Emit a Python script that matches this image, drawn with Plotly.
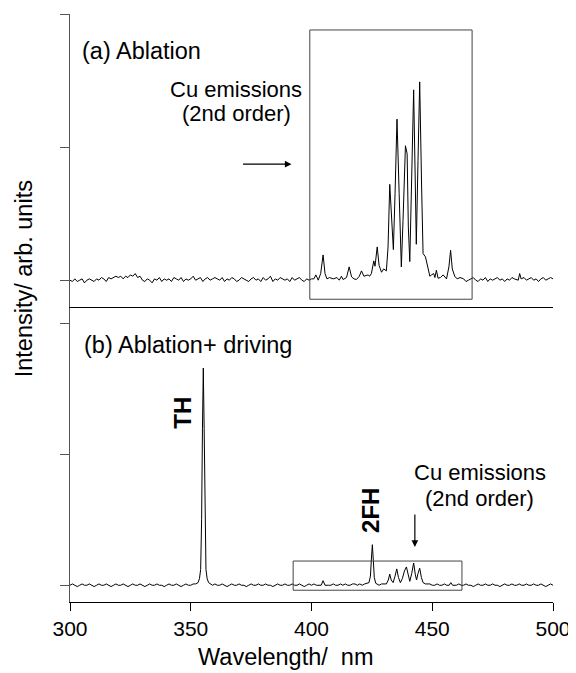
import plotly.graph_objects as go

# ---------------- data ----------------
wl_grid = list(range(300, 501))

noise_a = [
    0.00, -0.01, 0.01, -0.01, 0.00, 0.01, -0.02, 0.00, 0.01, 0.00,
    -0.01, 0.01, 0.00, 0.02, 0.01, -0.01, 0.02, 0.01, 0.02, 0.03,
    0.02, 0.03, 0.01, 0.03, 0.02, 0.04, 0.03, 0.05, 0.02, 0.03,
    0.00, -0.01, 0.01, 0.00, -0.02, 0.01, 0.00, 0.02, -0.01, 0.01,
    0.00, 0.01, -0.01, 0.02, 0.01, 0.00, 0.02, -0.01, 0.01, 0.00,
    0.01, 0.03, 0.00, 0.01, 0.02, -0.01, 0.01, 0.02, 0.00, 0.01,
    0.02, 0.01, 0.00, 0.02, -0.01, 0.01, 0.00, 0.02, 0.01, -0.01,
    0.00, 0.02, 0.01, 0.00, -0.01, 0.01, 0.02, 0.00, 0.01, -0.01,
    0.02, 0.00, 0.01, 0.03, -0.01, 0.01, 0.00, 0.02, 0.01, 0.00,
    0.01, -0.01, 0.02, 0.00, 0.01, 0.02, 0.00, -0.01, 0.01, 0.00,
    0.01, 0.02, 0.00, 0.01, 0.02, 0.00, 0.01, -0.01, 0.01, 0.00,
    0.01, 0.00, 0.02, 0.01, 0.00, 0.02, 0.01, 0.00, 0.01, 0.02,
    0.01, 0.02, 0.01, 0.03, 0.02, 0.04, 0.05, 0.06, 0.05, 0.04,
    0.03, 0.02, 0.04, 0.03, 0.02, 0.03, 0.02, 0.04, 0.03, 0.02,
    0.03, 0.02, 0.04, 0.03, 0.05, 0.04, 0.03, 0.02, 0.03, 0.02,
    0.01, 0.02, 0.01, 0.00, 0.02, 0.01, 0.00, 0.02, 0.01, 0.00,
    0.01, 0.00, 0.02, 0.01, -0.01, 0.00, 0.01, 0.02, 0.00, -0.01,
    0.01, 0.00, 0.02, -0.01, 0.01, 0.00, 0.01, 0.02, 0.00, 0.01,
    -0.01, 0.01, 0.00, 0.02, 0.01, 0.00, 0.03, 0.01, 0.02, 0.00,
    0.01, 0.02, 0.00, 0.01, -0.01, 0.01, 0.02, 0.00, 0.01, 0.02,
    0.01,
]

peak_a_wl = [
    401.0, 401.8, 402.8, 403.8, 404.8, 405.6, 406.4, 407.5, 409.0, 410.5,
    411.5, 412.4, 413.1, 414.5, 415.6, 416.6, 417.6, 418.6, 419.8, 420.7,
    421.7, 422.6, 423.4, 424.1, 424.8, 425.8, 426.3, 427.2, 428.0, 429.0,
    429.9, 431.0, 431.7, 432.4, 433.1, 433.9, 434.6, 435.4, 436.3, 437.2,
    437.9, 438.9, 439.6, 440.1, 440.7, 441.5, 442.3, 443.0, 443.4, 444.1,
    444.8, 445.6, 446.2, 447.2, 448.3, 449.0, 449.7, 450.6, 451.1, 451.7,
    452.4, 453.4, 454.5, 455.2, 455.9, 456.9, 457.6, 458.3, 459.3, 460.3,
    461.5, 485.6, 486.2, 486.8,
]
peak_a_val = [
    0.01, 0.04, 0.00, 0.05, 0.19, 0.05, 0.01, 0.02, 0.01, 0.02,
    0.00, 0.03, 0.005, 0.02, 0.10, 0.025, 0.01, 0.005, 0.03, 0.07,
    0.03, 0.035, 0.04, 0.03, 0.05, 0.145, 0.105, 0.25, 0.11, 0.06,
    0.085, 0.07, 0.25, 0.72, 0.45, 0.23, 0.65, 1.21, 0.65, 0.10,
    0.45, 1.01, 0.95, 0.40, 0.14, 0.70, 1.43, 0.70, 0.27, 0.90,
    1.49, 0.70, 0.20, 0.175, 0.07, 0.03, 0.04, 0.05, 0.02, 0.075,
    0.015, 0.02, 0.04, 0.02, 0.01, 0.10, 0.225, 0.085, 0.03, 0.01,
    0.02, 0.00, 0.05, 0.01,
]

noise_b = [
    0.00, 0.01, 0.00, -0.01, 0.00, 0.01, 0.00, 0.00, 0.01, 0.00,
    -0.01, 0.00, 0.01, 0.00, 0.00, 0.01, 0.00, -0.01, 0.00, 0.01,
    0.00, 0.00, 0.01, 0.00, -0.01, 0.00, 0.01, 0.00, 0.00, 0.01,
    0.00, -0.01, 0.00, 0.01, 0.00, 0.00, 0.01, 0.00, 0.00, -0.01,
    0.00, 0.01, 0.00, 0.00, 0.01, 0.00, -0.01, 0.00, 0.01, 0.00,
    0.00, 0.01, 0.01, 0.02, 0.03, 0.05, 0.04, 0.02, 0.01, 0.00,
    0.01, 0.00, 0.00, 0.01, 0.00, -0.01, 0.00, 0.01, 0.00, 0.00,
    0.01, 0.00, 0.00, -0.01, 0.00, 0.01, 0.00, 0.00, 0.01, 0.00,
    0.00, 0.01, 0.00, 0.00, -0.01, 0.00, 0.01, 0.00, 0.00, 0.01,
    0.00, 0.00, 0.01, 0.00, 0.00, 0.01, 0.00, -0.01, 0.00, 0.01,
    0.00, 0.01, 0.00, 0.00, 0.01, 0.03, 0.01, 0.00, 0.00, 0.01,
    0.00, 0.00, 0.01, 0.00, 0.01, 0.00, 0.00, 0.01, 0.01, 0.00,
    0.01, 0.00, 0.01, 0.02, 0.03, 0.30, 0.04, 0.01, 0.00, 0.01,
    0.01, 0.02, 0.08, 0.03, 0.06, 0.12, 0.05, 0.04, 0.10, 0.14,
    0.05, 0.09, 0.16, 0.05, 0.10, 0.12, 0.02, 0.01, 0.00, 0.01,
    0.00, 0.00, 0.01, 0.00, 0.00, 0.01, 0.00, 0.00, 0.02, 0.00,
    0.00, 0.01, 0.00, 0.00, 0.01, 0.00, 0.00, -0.01, 0.00, 0.01,
    0.00, 0.00, 0.01, 0.00, 0.00, 0.01, 0.00, 0.00, -0.01, 0.00,
    0.01, 0.00, 0.00, 0.01, 0.00, 0.00, 0.01, 0.00, 0.00, 0.01,
    0.00, 0.00, 0.01, 0.00, 0.00, 0.01, 0.00, -0.01, 0.00, 0.01,
    0.00,
]

peak_b_wl = [
    353.0, 353.6, 354.1, 354.5, 354.85, 355.2, 355.55, 355.9, 356.3, 356.8, 357.4,
    404.0, 404.8, 405.6,
    423.8, 424.4, 424.8, 425.2, 425.6, 426.0, 426.6,
    431.0, 431.8, 432.4, 433.0, 433.8, 434.6, 435.3, 436.0, 436.8, 437.6,
    438.5, 439.3, 440.0, 440.7, 441.5, 442.3, 443.0, 443.5, 444.1, 444.8,
    445.5, 446.2, 447.2,
    457.0, 457.7, 458.4,
]
peak_b_val = [
    0.02, 0.05, 0.12, 0.50, 1.20, 1.66, 1.20, 0.45, 0.12, 0.05, 0.02,
    0.00, 0.035, 0.00,
    0.02, 0.07, 0.20, 0.31, 0.19, 0.06, 0.015,
    0.01, 0.04, 0.085, 0.04, 0.02, 0.07, 0.125, 0.06, 0.02, 0.05,
    0.11, 0.14, 0.07, 0.03, 0.09, 0.17, 0.08, 0.04, 0.09, 0.13,
    0.06, 0.02, 0.01,
    0.00, 0.02, 0.00,
]

x_ticks = [300, 350, 400, 450, 500]
y_ticks = [0, 1, 2]

box_a = [399.3, 466.5, -0.143, 1.88]
box_b = [392.4, 462.3, -0.038, 0.185]


def merge(grid, noise, pk_wl, pk_val):
    pts = [(w, v) for w, v in zip(grid, noise)
           if min(abs(w - p) for p in pk_wl) >= 1.0]
    pts += list(zip(pk_wl, pk_val))
    pts.sort()
    return [p[0] for p in pts], [p[1] for p in pts]


xa, ya = merge(wl_grid, noise_a, peak_a_wl, peak_a_val)
xb, yb = merge(wl_grid, noise_b, peak_b_wl, peak_b_val)

FONT = "Liberation Sans, Arial, sans-serif"
AX_GREY = "#555555"

fig = go.Figure()
fig.add_trace(go.Scatter(x=xa, y=ya, mode="lines", xaxis="x2", yaxis="y2",
                         line=dict(color="black", width=1), showlegend=False,
                         hoverinfo="skip"))
fig.add_trace(go.Scatter(x=xb, y=yb, mode="lines", xaxis="x", yaxis="y",
                         line=dict(color="black", width=1), showlegend=False,
                         hoverinfo="skip"))

split = 0.502
xr = [300, 500]
yr_a = [-0.2, 2.0]
yr_b = [-0.128, 2.128]

common_x = dict(range=xr, tickvals=x_ticks, showgrid=False, zeroline=False,
                fixedrange=True)
common_y = dict(tickvals=y_ticks, showgrid=False, zeroline=False,
                showticklabels=False, fixedrange=True)

# page body has an 8px margin: the figure is offset by 8px and the overflow clipped
fig.update_layout(
    width=576, height=673, autosize=False,
    margin=dict(l=62, r=31, t=6, b=79, pad=0),
    plot_bgcolor="white", paper_bgcolor="white",
    font=dict(family=FONT, color="black", size=21),
    showlegend=False,
    xaxis=dict(**common_x, domain=[0, 1], anchor="y", ticks="outside",
               ticklen=8, tickcolor="black", showline=True, linecolor="black",
               linewidth=1, tickfont=dict(size=21, family=FONT)),
    yaxis=dict(**common_y, domain=[0, split], range=yr_b, anchor="x",
               ticks="outside", ticklen=9, tickcolor=AX_GREY, showline=True,
               linecolor=AX_GREY, linewidth=1),
    xaxis2=dict(**common_x, domain=[0, 1], anchor="y2", ticks="",
                showticklabels=False, showline=True, linecolor="black",
                linewidth=1.2),
    yaxis2=dict(**common_y, domain=[split, 1], range=yr_a, anchor="x2",
                ticks="outside", ticklen=9, tickcolor=AX_GREY, showline=True,
                linecolor=AX_GREY, linewidth=1),
    xaxis3=dict(**common_x, overlaying="x2", anchor="y2", side="top",
                ticks="inside", ticklen=7, tickcolor=AX_GREY,
                showticklabels=False, showline=True, linecolor=AX_GREY,
                linewidth=1),
    xaxis4=dict(**common_x, overlaying="x", anchor="y", side="top",
                ticks="inside", ticklen=8, tickcolor="black",
                showticklabels=False, showline=False),
    yaxis3=dict(**common_y, range=yr_a, overlaying="y2", anchor="x2",
                side="right", ticks="inside", ticklen=3, tickcolor=AX_GREY,
                showline=True, linecolor=AX_GREY, linewidth=1),
    yaxis4=dict(**common_y, range=yr_b, overlaying="y", anchor="x",
                side="right", ticks="inside", ticklen=3, tickcolor=AX_GREY,
                showline=True, linecolor=AX_GREY, linewidth=1),
)

# boxes
fig.add_shape(type="rect", xref="x2", yref="y2",
              x0=box_a[0], x1=box_a[1], y0=box_a[2], y1=box_a[3],
              line=dict(color="#444444", width=1))
fig.add_shape(type="rect", xref="x", yref="y",
              x0=box_b[0], x1=box_b[1], y0=box_b[2], y1=box_b[3],
              line=dict(color="#444444", width=1))


def txt(text, x, y, xref, yref, size, xanchor="center", bold=False, angle=0):
    if bold:
        text = "<b>" + text + "</b>"
    fig.add_annotation(text=text, x=x, y=y, xref=xref, yref=yref,
                       showarrow=False, xanchor=xanchor, yanchor="middle",
                       textangle=angle,
                       font=dict(family=FONT, size=size, color="black"))


# panel (a)
txt("(a) Ablation", 304.1, 1.72, "x2", "y2", 23.5, xanchor="left")
txt("Cu emissions", 368.8, 1.43, "x2", "y2", 22)
txt("(2nd order)", 368.8, 1.255, "x2", "y2", 22)
fig.add_annotation(x=391.7, y=0.872, xref="x2", yref="y2", ax=-50, ay=0,
                   axref="pixel", ayref="pixel", text="", showarrow=True,
                   arrowhead=2, arrowsize=1.1, arrowwidth=1.2,
                   arrowcolor="black")

# panel (b)
txt("(b) Ablation+ driving", 304.8, 1.835, "x", "y", 23.5, xanchor="left")
txt("TH", 346.8, 1.319, "x", "y", 24, bold=True, angle=-90)
txt("2FH", 424.5, 0.573, "x", "y", 24, bold=True, angle=-90)
txt("Cu emissions", 469.7, 0.86, "x", "y", 22)
txt("(2nd order)", 469.7, 0.661, "x", "y", 22)
fig.add_annotation(x=442.8, y=0.293, xref="x", yref="y", ax=0, ay=-34,
                   text="", showarrow=True, arrowhead=2, arrowsize=1.1,
                   arrowwidth=1.2, arrowcolor="black")

# axis titles
txt("Wavelength/\u00a0 nm", 0.4465, -0.094, "paper", "paper", 23.5)
txt("Intensity/ arb. units", -0.095, 0.549, "paper", "paper", 23.5, angle=-90)

fig.write_html("out.html")
